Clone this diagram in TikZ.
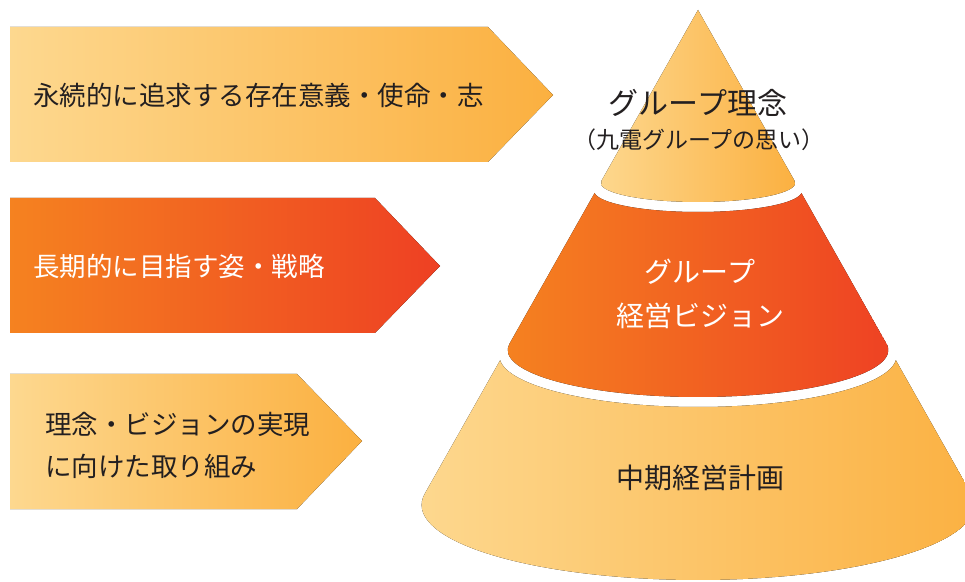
\documentclass[tikz,border=0pt]{standalone}
\usepackage{fontspec}
\setmainfont{Noto Sans CJK JP}
\definecolor{liteL}{RGB}{253,216,143}
\definecolor{liteR}{RGB}{251,176,64}
\definecolor{hotL}{RGB}{245,130,32}
\definecolor{hotR}{RGB}{238,64,35}
\definecolor{ink}{RGB}{35,31,32}

\begin{document}
\begin{tikzpicture}[x=1pt, y=1pt,
    lite/.style={left color=liteL, right color=liteR},
    hot/.style={left color=hotL, right color=hotR},
    lbl/.style={inner sep=0pt, text=ink, font=\fontsize{26.5}{42}\selectfont}]
        \useasboundingbox (0,0) rectangle (965,581);
        % arrows on the left
        \fill[lite] (10,554) -- (488,554) -- (553,486) -- (488,419) -- (10,419) -- cycle;
        \fill[hot] (10,383) -- (375,383) -- (440,315) -- (375,248) -- (10,248) -- cycle;
        \fill[lite] (10,207) -- (297,207) -- (362,140) -- (297,72) -- (10,72) -- cycle;
        % cone
        \coordinate (apex) at (698,571);
        \coordinate (c1) at (698,398);
        \coordinate (c2) at (698,390);
        \coordinate (c3) at (698,231);
        \coordinate (c4) at (698,225);
        \coordinate (c5) at (698,76);
        \fill[lite] (apex) -- ([shift={(c1)}]173.69:97.2pt and 19pt)
            arc[start angle=173.69, end angle=366.31, x radius=97.2pt, y radius=19pt] -- cycle;
        \begin{scope}
          \clip (0,0) rectangle (965,581);
          \clip (apex) -- ([shift={(c5)}]171.29:276.4pt and 75pt)
            arc[start angle=171.29, end angle=368.71, x radius=276.4pt, y radius=75pt] -- cycle;
          \fill[hot] ([shift={(c2)}]180:104pt and 21pt)
            arc[start angle=180, end angle=360, x radius=104pt, y radius=21pt]
            -- ([shift={(c3)}]7.94:190.3pt and 47pt)
            arc[start angle=7.94, end angle=-187.94, x radius=190.3pt, y radius=47pt] -- cycle;
          \fill[lite] ([shift={(c4)}]180:198.6pt and 51pt)
            arc[start angle=180, end angle=360, x radius=198.6pt, y radius=51pt]
            -- ([shift={(c5)}]8.71:276.4pt and 75pt)
            arc[start angle=8.71, end angle=-188.71, x radius=276.4pt, y radius=75pt] -- cycle;
        \end{scope}
        % texts
        \node[lbl, anchor=west] (mission) at (33,486) {永続的に追求する存在意義・使命・志};
        \node[lbl, anchor=west, text=white] (strategy) at (33,315) {長期的に目指す姿・戦略};
        \node[lbl, anchor=west, align=left] (action) at (45,136) {理念・ビジョンの実現\\に向けた取り組み};
        \node[lbl, font=\fontsize{30}{36}\selectfont] (rinen) at (698,478) {グループ理念};
        \node[lbl, font=\fontsize{23}{28}\selectfont] (omoi) at (699,441) {（九電グループの思い）};
        \node[lbl, text=white, align=center, font=\fontsize{28}{44}\selectfont] (vision) at (700,287) {グループ\\経営ビジョン};
        \node[lbl, font=\fontsize{28}{34}\selectfont] (plan) at (700,103) {中期経営計画};
\end{tikzpicture}
\end{document}
